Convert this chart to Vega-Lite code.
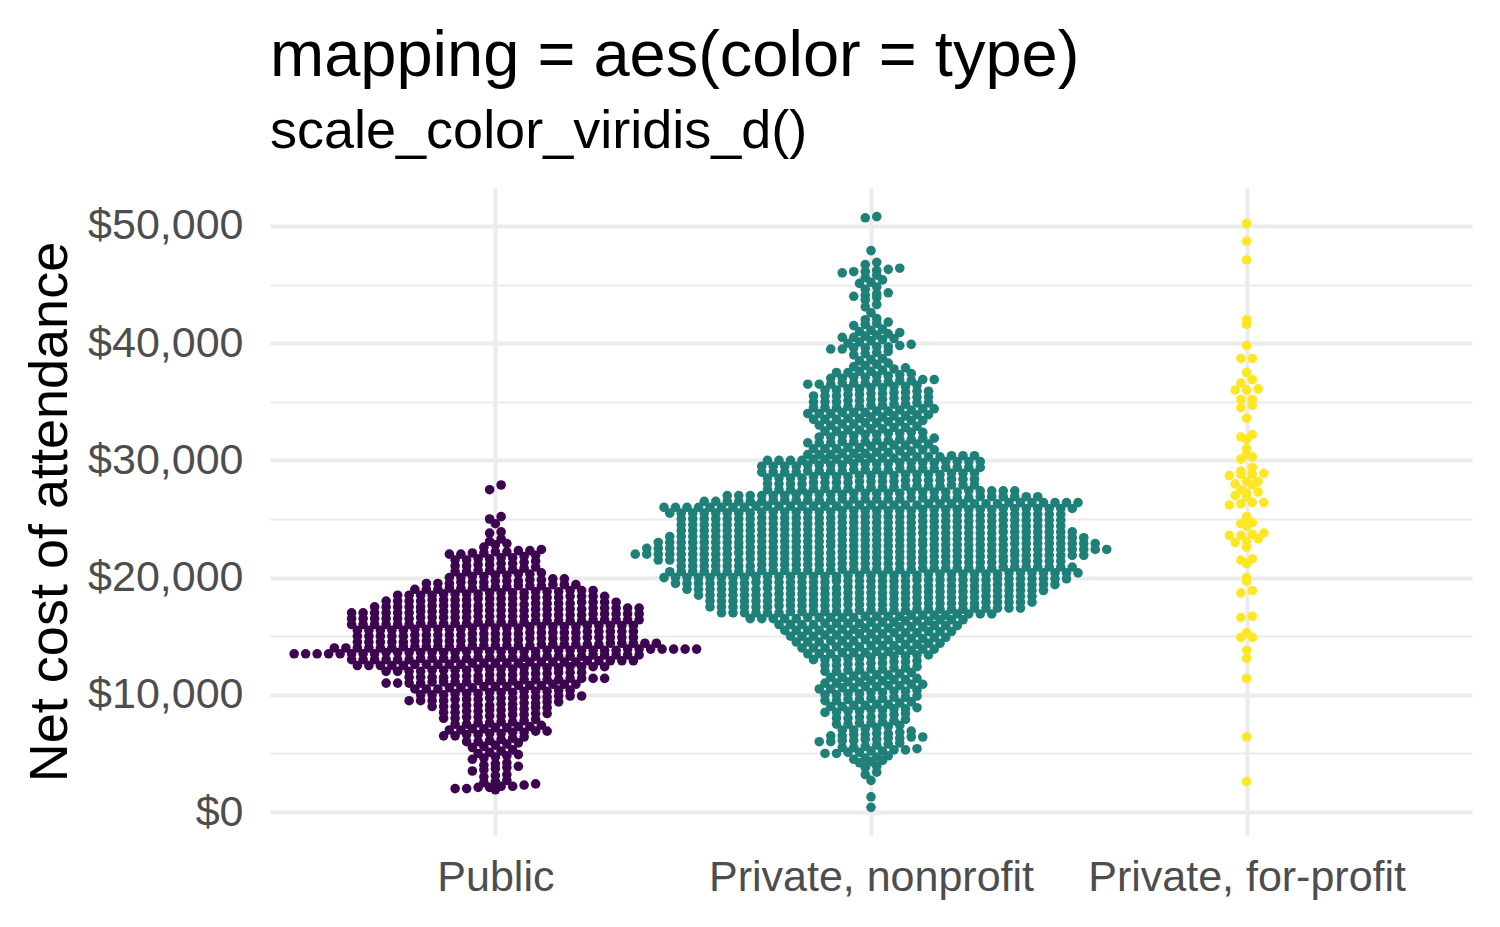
{
"$schema": "https://vega.github.io/schema/vega-lite/v6.json",
"width": 1202,
"height": 647,
"autosize": {"type": "none"},
"padding": {"left": 270, "top": 188, "right": 28, "bottom": 92},
"background": "white",
"config": {"view": {"stroke": null}, "font": "Liberation Sans"},
"title": {"text": "mapping = aes(color = type)", "subtitle": "scale_color_viridis_d()", "anchor": "start", "frame": "group", "font": "Liberation Sans", "fontSize": 65, "fontWeight": "normal", "color": "#000000", "subtitleFont": "Liberation Sans", "subtitleFontSize": 54, "subtitleColor": "#000000", "subtitlePadding": 15, "offset": 28},
"datasets": {
"public": [
{"cost":1900},
{"cost":2000},{"cost":2100},{"cost":2200},{"cost":2300},{"cost":2400},{"cost":2000},{"cost":2100},{"cost":2200},
{"cost":2500},{"cost":2600},{"cost":2700},
{"cost":3000},{"cost":3100},{"cost":3200},
{"cost":3500},{"cost":3600},{"cost":3700},{"cost":3800},{"cost":3900},
{"cost":4000},{"cost":4100},{"cost":4200},
{"cost":4500},{"cost":4600},{"cost":4700},{"cost":4800},{"cost":4900},
{"cost":5000},{"cost":5100},{"cost":5200},{"cost":5300},
{"cost":5500},{"cost":5600},{"cost":5700},{"cost":5800},{"cost":5900},
{"cost":6000},{"cost":6100},{"cost":6200},{"cost":6300},{"cost":6400},{"cost":6000},
{"cost":6500},{"cost":6600},{"cost":6700},{"cost":6800},{"cost":6900},{"cost":6500},{"cost":6600},{"cost":6700},{"cost":6800},{"cost":6900},
{"cost":7000},{"cost":7100},{"cost":7200},{"cost":7300},{"cost":7400},{"cost":7000},{"cost":7100},{"cost":7200},{"cost":7300},
{"cost":7500},{"cost":7600},{"cost":7700},{"cost":7800},{"cost":7900},{"cost":7500},{"cost":7600},{"cost":7700},
{"cost":8000},{"cost":8100},{"cost":8200},{"cost":8300},{"cost":8400},{"cost":8000},{"cost":8100},{"cost":8200},{"cost":8300},{"cost":8400},
{"cost":8500},{"cost":8600},{"cost":8700},{"cost":8800},{"cost":8900},{"cost":8500},{"cost":8600},{"cost":8700},{"cost":8800},{"cost":8900},
{"cost":9000},{"cost":9100},{"cost":9200},{"cost":9300},{"cost":9400},{"cost":9000},{"cost":9100},{"cost":9200},{"cost":9300},{"cost":9400},{"cost":9000},{"cost":9100},
{"cost":9500},{"cost":9600},{"cost":9700},{"cost":9800},{"cost":9900},{"cost":9500},{"cost":9600},{"cost":9700},{"cost":9800},{"cost":9900},{"cost":9500},{"cost":9600},{"cost":9700},{"cost":9800},{"cost":9900},{"cost":9500},
{"cost":10000},{"cost":10100},{"cost":10200},{"cost":10300},{"cost":10400},{"cost":10000},{"cost":10100},{"cost":10200},{"cost":10300},{"cost":10400},{"cost":10000},{"cost":10100},{"cost":10200},{"cost":10300},
{"cost":10500},{"cost":10600},{"cost":10700},{"cost":10800},{"cost":10900},{"cost":10500},{"cost":10600},{"cost":10700},{"cost":10800},{"cost":10900},{"cost":10500},{"cost":10600},{"cost":10700},{"cost":10800},{"cost":10900},
{"cost":11000},{"cost":11100},{"cost":11200},{"cost":11300},{"cost":11400},{"cost":11000},{"cost":11100},{"cost":11200},{"cost":11300},{"cost":11400},{"cost":11000},{"cost":11100},{"cost":11200},{"cost":11300},{"cost":11400},{"cost":11000},{"cost":11100},{"cost":11200},{"cost":11300},{"cost":11400},
{"cost":11500},{"cost":11600},{"cost":11700},{"cost":11800},{"cost":11900},{"cost":11500},{"cost":11600},{"cost":11700},{"cost":11800},{"cost":11900},{"cost":11500},{"cost":11600},{"cost":11700},{"cost":11800},{"cost":11900},{"cost":11500},
{"cost":12000},{"cost":12100},{"cost":12200},{"cost":12300},{"cost":12400},{"cost":12000},{"cost":12100},{"cost":12200},{"cost":12300},{"cost":12400},{"cost":12000},{"cost":12100},{"cost":12200},{"cost":12300},{"cost":12400},{"cost":12000},{"cost":12100},{"cost":12200},{"cost":12300},{"cost":12400},
{"cost":12500},{"cost":12600},{"cost":12700},{"cost":12800},{"cost":12900},{"cost":12500},{"cost":12600},{"cost":12700},{"cost":12800},{"cost":12900},{"cost":12500},{"cost":12600},{"cost":12700},{"cost":12800},{"cost":12900},{"cost":12500},{"cost":12600},{"cost":12700},{"cost":12800},{"cost":12900},{"cost":12500},{"cost":12600},{"cost":12700},{"cost":12800},{"cost":12900},
{"cost":13000},{"cost":13100},{"cost":13200},{"cost":13300},{"cost":13400},{"cost":13000},{"cost":13100},{"cost":13200},{"cost":13300},{"cost":13400},{"cost":13000},{"cost":13100},{"cost":13200},{"cost":13300},{"cost":13400},{"cost":13000},{"cost":13100},{"cost":13200},{"cost":13300},{"cost":13400},{"cost":13000},{"cost":13100},{"cost":13200},{"cost":13300},{"cost":13400},{"cost":13000},
{"cost":13500},{"cost":13600},{"cost":13700},{"cost":13800},{"cost":13900},{"cost":13500},{"cost":13600},{"cost":13700},{"cost":13800},{"cost":13900},{"cost":13500},{"cost":13600},{"cost":13700},{"cost":13800},{"cost":13900},{"cost":13500},{"cost":13600},{"cost":13700},{"cost":13800},{"cost":13900},{"cost":13500},{"cost":13600},{"cost":13700},{"cost":13800},{"cost":13900},{"cost":13500},{"cost":13600},{"cost":13700},{"cost":13800},{"cost":13900},{"cost":13500},{"cost":13600},{"cost":13700},{"cost":13800},{"cost":13900},{"cost":13500},
{"cost":14000},{"cost":14100},{"cost":14200},{"cost":14300},{"cost":14400},{"cost":14000},{"cost":14100},{"cost":14200},{"cost":14300},{"cost":14400},{"cost":14000},{"cost":14100},{"cost":14200},{"cost":14300},{"cost":14400},{"cost":14000},{"cost":14100},{"cost":14200},{"cost":14300},{"cost":14400},{"cost":14000},{"cost":14100},{"cost":14200},{"cost":14300},{"cost":14400},{"cost":14000},{"cost":14100},{"cost":14200},{"cost":14300},
{"cost":14500},{"cost":14600},{"cost":14700},{"cost":14800},{"cost":14900},{"cost":14500},{"cost":14600},{"cost":14700},{"cost":14800},{"cost":14900},{"cost":14500},{"cost":14600},{"cost":14700},{"cost":14800},{"cost":14900},{"cost":14500},{"cost":14600},{"cost":14700},{"cost":14800},{"cost":14900},{"cost":14500},{"cost":14600},{"cost":14700},{"cost":14800},{"cost":14900},
{"cost":15000},{"cost":15100},{"cost":15200},{"cost":15300},{"cost":15400},{"cost":15000},{"cost":15100},{"cost":15200},{"cost":15300},{"cost":15400},{"cost":15000},{"cost":15100},{"cost":15200},{"cost":15300},{"cost":15400},{"cost":15000},{"cost":15100},{"cost":15200},{"cost":15300},{"cost":15400},{"cost":15000},{"cost":15100},{"cost":15200},{"cost":15300},{"cost":15400},
{"cost":15500},{"cost":15600},{"cost":15700},{"cost":15800},{"cost":15900},{"cost":15500},{"cost":15600},{"cost":15700},{"cost":15800},{"cost":15900},{"cost":15500},{"cost":15600},{"cost":15700},{"cost":15800},{"cost":15900},{"cost":15500},{"cost":15600},{"cost":15700},{"cost":15800},{"cost":15900},{"cost":15500},{"cost":15600},{"cost":15700},{"cost":15800},{"cost":15900},
{"cost":16000},{"cost":16100},{"cost":16200},{"cost":16300},{"cost":16400},{"cost":16000},{"cost":16100},{"cost":16200},{"cost":16300},{"cost":16400},{"cost":16000},{"cost":16100},{"cost":16200},{"cost":16300},{"cost":16400},{"cost":16000},{"cost":16100},{"cost":16200},{"cost":16300},{"cost":16400},{"cost":16000},{"cost":16100},{"cost":16200},{"cost":16300},{"cost":16400},{"cost":16000},
{"cost":16500},{"cost":16600},{"cost":16700},{"cost":16800},{"cost":16900},{"cost":16500},{"cost":16600},{"cost":16700},{"cost":16800},{"cost":16900},{"cost":16500},{"cost":16600},{"cost":16700},{"cost":16800},{"cost":16900},{"cost":16500},{"cost":16600},{"cost":16700},{"cost":16800},{"cost":16900},{"cost":16500},{"cost":16600},{"cost":16700},{"cost":16800},{"cost":16900},{"cost":16500},
{"cost":17000},{"cost":17100},{"cost":17200},{"cost":17300},{"cost":17400},{"cost":17000},{"cost":17100},{"cost":17200},{"cost":17300},{"cost":17400},{"cost":17000},{"cost":17100},{"cost":17200},{"cost":17300},{"cost":17400},{"cost":17000},{"cost":17100},{"cost":17200},{"cost":17300},{"cost":17400},{"cost":17000},{"cost":17100},{"cost":17200},{"cost":17300},{"cost":17400},{"cost":17000},
{"cost":17500},{"cost":17600},{"cost":17700},{"cost":17800},{"cost":17900},{"cost":17500},{"cost":17600},{"cost":17700},{"cost":17800},{"cost":17900},{"cost":17500},{"cost":17600},{"cost":17700},{"cost":17800},{"cost":17900},{"cost":17500},{"cost":17600},{"cost":17700},{"cost":17800},{"cost":17900},{"cost":17500},{"cost":17600},
{"cost":18000},{"cost":18100},{"cost":18200},{"cost":18300},{"cost":18400},{"cost":18000},{"cost":18100},{"cost":18200},{"cost":18300},{"cost":18400},{"cost":18000},{"cost":18100},{"cost":18200},{"cost":18300},{"cost":18400},{"cost":18000},{"cost":18100},{"cost":18200},{"cost":18300},{"cost":18400},
{"cost":18500},{"cost":18600},{"cost":18700},{"cost":18800},{"cost":18900},{"cost":18500},{"cost":18600},{"cost":18700},{"cost":18800},{"cost":18900},{"cost":18500},{"cost":18600},{"cost":18700},{"cost":18800},{"cost":18900},{"cost":18500},{"cost":18600},{"cost":18700},
{"cost":19000},{"cost":19100},{"cost":19200},{"cost":19300},{"cost":19400},{"cost":19000},{"cost":19100},{"cost":19200},{"cost":19300},{"cost":19400},{"cost":19000},{"cost":19100},{"cost":19200},{"cost":19300},{"cost":19400},
{"cost":19500},{"cost":19600},{"cost":19700},{"cost":19800},{"cost":19900},{"cost":19500},{"cost":19600},{"cost":19700},{"cost":19800},{"cost":19900},{"cost":19500},{"cost":19600},{"cost":19700},
{"cost":20000},{"cost":20100},{"cost":20200},{"cost":20300},{"cost":20400},{"cost":20000},{"cost":20100},{"cost":20200},{"cost":20300},
{"cost":20500},{"cost":20600},{"cost":20700},{"cost":20800},{"cost":20900},{"cost":20500},{"cost":20600},{"cost":20700},
{"cost":21000},{"cost":21100},{"cost":21200},{"cost":21300},{"cost":21400},{"cost":21000},{"cost":21100},{"cost":21200},
{"cost":21500},{"cost":21600},{"cost":21700},{"cost":21800},{"cost":21900},{"cost":21500},{"cost":21600},{"cost":21700},
{"cost":22000},{"cost":22100},{"cost":22200},{"cost":22300},{"cost":22400},{"cost":22000},{"cost":22100},{"cost":22200},{"cost":22300},
{"cost":22600},{"cost":22800},{"cost":22900},
{"cost":23100},{"cost":23300},
{"cost":23800},{"cost":23900},
{"cost":24600},
{"cost":25000},{"cost":25200},
{"cost":27500},{"cost":27900}
],
"nonprofit": [
{"cost":400},
{"cost":1300},
{"cost":2700},
{"cost":3200},{"cost":3400},
{"cost":3800},{"cost":3900},
{"cost":4200},{"cost":4300},{"cost":4400},
{"cost":4500},{"cost":4600},{"cost":4700},{"cost":4800},
{"cost":5000},{"cost":5100},{"cost":5200},{"cost":5300},{"cost":5400},{"cost":5000},{"cost":5100},{"cost":5200},{"cost":5300},
{"cost":5500},{"cost":5600},{"cost":5700},{"cost":5800},{"cost":5900},{"cost":5500},
{"cost":6000},{"cost":6100},{"cost":6200},{"cost":6300},{"cost":6400},{"cost":6000},{"cost":6100},{"cost":6200},{"cost":6300},{"cost":6400},
{"cost":6500},{"cost":6600},{"cost":6700},{"cost":6800},{"cost":6900},{"cost":6500},{"cost":6600},{"cost":6700},
{"cost":7000},{"cost":7100},{"cost":7200},{"cost":7300},{"cost":7400},{"cost":7000},
{"cost":7500},{"cost":7600},{"cost":7700},{"cost":7800},{"cost":7900},{"cost":7500},{"cost":7600},
{"cost":8000},{"cost":8100},{"cost":8200},{"cost":8300},{"cost":8400},{"cost":8000},{"cost":8100},
{"cost":8500},{"cost":8600},{"cost":8700},{"cost":8800},{"cost":8900},{"cost":8500},{"cost":8600},{"cost":8700},{"cost":8800},
{"cost":9000},{"cost":9100},{"cost":9200},{"cost":9300},{"cost":9400},{"cost":9000},{"cost":9100},{"cost":9200},
{"cost":9500},{"cost":9600},{"cost":9700},{"cost":9800},{"cost":9900},{"cost":9500},{"cost":9600},{"cost":9700},{"cost":9800},
{"cost":10000},{"cost":10100},{"cost":10200},{"cost":10300},{"cost":10400},{"cost":10000},{"cost":10100},{"cost":10200},{"cost":10300},
{"cost":10500},{"cost":10600},{"cost":10700},{"cost":10800},{"cost":10900},{"cost":10500},{"cost":10600},{"cost":10700},{"cost":10800},{"cost":10900},
{"cost":11000},{"cost":11100},{"cost":11200},{"cost":11300},{"cost":11400},{"cost":11000},{"cost":11100},{"cost":11200},{"cost":11300},
{"cost":11500},{"cost":11600},{"cost":11700},{"cost":11800},{"cost":11900},{"cost":11500},{"cost":11600},{"cost":11700},
{"cost":12000},{"cost":12100},{"cost":12200},{"cost":12300},{"cost":12400},{"cost":12000},{"cost":12100},{"cost":12200},{"cost":12300},
{"cost":12500},{"cost":12600},{"cost":12700},{"cost":12800},{"cost":12900},{"cost":12500},{"cost":12600},{"cost":12700},{"cost":12800},
{"cost":13000},{"cost":13100},{"cost":13200},{"cost":13300},{"cost":13400},{"cost":13000},{"cost":13100},{"cost":13200},{"cost":13300},{"cost":13400},{"cost":13000},
{"cost":13500},{"cost":13600},{"cost":13700},{"cost":13800},{"cost":13900},{"cost":13500},{"cost":13600},{"cost":13700},{"cost":13800},{"cost":13900},{"cost":13500},{"cost":13600},
{"cost":14000},{"cost":14100},{"cost":14200},{"cost":14300},{"cost":14400},{"cost":14000},{"cost":14100},{"cost":14200},{"cost":14300},{"cost":14400},{"cost":14000},{"cost":14100},{"cost":14200},
{"cost":14500},{"cost":14600},{"cost":14700},{"cost":14800},{"cost":14900},{"cost":14500},{"cost":14600},{"cost":14700},{"cost":14800},{"cost":14900},{"cost":14500},{"cost":14600},{"cost":14700},{"cost":14800},
{"cost":15000},{"cost":15100},{"cost":15200},{"cost":15300},{"cost":15400},{"cost":15000},{"cost":15100},{"cost":15200},{"cost":15300},{"cost":15400},{"cost":15000},{"cost":15100},{"cost":15200},{"cost":15300},{"cost":15400},
{"cost":15500},{"cost":15600},{"cost":15700},{"cost":15800},{"cost":15900},{"cost":15500},{"cost":15600},{"cost":15700},{"cost":15800},{"cost":15900},{"cost":15500},{"cost":15600},{"cost":15700},{"cost":15800},{"cost":15900},{"cost":15500},
{"cost":16000},{"cost":16100},{"cost":16200},{"cost":16300},{"cost":16400},{"cost":16000},{"cost":16100},{"cost":16200},{"cost":16300},{"cost":16400},{"cost":16000},{"cost":16100},{"cost":16200},{"cost":16300},{"cost":16400},{"cost":16000},{"cost":16100},
{"cost":16500},{"cost":16600},{"cost":16700},{"cost":16800},{"cost":16900},{"cost":16500},{"cost":16600},{"cost":16700},{"cost":16800},{"cost":16900},{"cost":16500},{"cost":16600},{"cost":16700},{"cost":16800},{"cost":16900},{"cost":16500},{"cost":16600},{"cost":16700},{"cost":16800},{"cost":16900},{"cost":16500},{"cost":16600},
{"cost":17000},{"cost":17100},{"cost":17200},{"cost":17300},{"cost":17400},{"cost":17000},{"cost":17100},{"cost":17200},{"cost":17300},{"cost":17400},{"cost":17000},{"cost":17100},{"cost":17200},{"cost":17300},{"cost":17400},{"cost":17000},{"cost":17100},{"cost":17200},{"cost":17300},{"cost":17400},{"cost":17000},{"cost":17100},{"cost":17200},{"cost":17300},{"cost":17400},{"cost":17000},{"cost":17100},
{"cost":17500},{"cost":17600},{"cost":17700},{"cost":17800},{"cost":17900},{"cost":17500},{"cost":17600},{"cost":17700},{"cost":17800},{"cost":17900},{"cost":17500},{"cost":17600},{"cost":17700},{"cost":17800},{"cost":17900},{"cost":17500},{"cost":17600},{"cost":17700},{"cost":17800},{"cost":17900},{"cost":17500},{"cost":17600},{"cost":17700},{"cost":17800},{"cost":17900},{"cost":17500},{"cost":17600},{"cost":17700},{"cost":17800},
{"cost":18000},{"cost":18100},{"cost":18200},{"cost":18300},{"cost":18400},{"cost":18000},{"cost":18100},{"cost":18200},{"cost":18300},{"cost":18400},{"cost":18000},{"cost":18100},{"cost":18200},{"cost":18300},{"cost":18400},{"cost":18000},{"cost":18100},{"cost":18200},{"cost":18300},{"cost":18400},{"cost":18000},{"cost":18100},{"cost":18200},{"cost":18300},{"cost":18400},{"cost":18000},{"cost":18100},{"cost":18200},{"cost":18300},
{"cost":18500},{"cost":18600},{"cost":18700},{"cost":18800},{"cost":18900},{"cost":18500},{"cost":18600},{"cost":18700},{"cost":18800},{"cost":18900},{"cost":18500},{"cost":18600},{"cost":18700},{"cost":18800},{"cost":18900},{"cost":18500},{"cost":18600},{"cost":18700},{"cost":18800},{"cost":18900},{"cost":18500},{"cost":18600},{"cost":18700},{"cost":18800},{"cost":18900},{"cost":18500},{"cost":18600},{"cost":18700},{"cost":18800},{"cost":18900},{"cost":18500},
{"cost":19000},{"cost":19100},{"cost":19200},{"cost":19300},{"cost":19400},{"cost":19000},{"cost":19100},{"cost":19200},{"cost":19300},{"cost":19400},{"cost":19000},{"cost":19100},{"cost":19200},{"cost":19300},{"cost":19400},{"cost":19000},{"cost":19100},{"cost":19200},{"cost":19300},{"cost":19400},{"cost":19000},{"cost":19100},{"cost":19200},{"cost":19300},{"cost":19400},{"cost":19000},{"cost":19100},{"cost":19200},{"cost":19300},{"cost":19400},{"cost":19000},{"cost":19100},{"cost":19200},
{"cost":19500},{"cost":19600},{"cost":19700},{"cost":19800},{"cost":19900},{"cost":19500},{"cost":19600},{"cost":19700},{"cost":19800},{"cost":19900},{"cost":19500},{"cost":19600},{"cost":19700},{"cost":19800},{"cost":19900},{"cost":19500},{"cost":19600},{"cost":19700},{"cost":19800},{"cost":19900},{"cost":19500},{"cost":19600},{"cost":19700},{"cost":19800},{"cost":19900},{"cost":19500},{"cost":19600},{"cost":19700},{"cost":19800},{"cost":19900},{"cost":19500},{"cost":19600},{"cost":19700},{"cost":19800},{"cost":19900},
{"cost":20000},{"cost":20100},{"cost":20200},{"cost":20300},{"cost":20400},{"cost":20000},{"cost":20100},{"cost":20200},{"cost":20300},{"cost":20400},{"cost":20000},{"cost":20100},{"cost":20200},{"cost":20300},{"cost":20400},{"cost":20000},{"cost":20100},{"cost":20200},{"cost":20300},{"cost":20400},{"cost":20000},{"cost":20100},{"cost":20200},{"cost":20300},{"cost":20400},{"cost":20000},{"cost":20100},{"cost":20200},{"cost":20300},{"cost":20400},{"cost":20000},{"cost":20100},{"cost":20200},{"cost":20300},{"cost":20400},{"cost":20000},{"cost":20100},
{"cost":20500},{"cost":20600},{"cost":20700},{"cost":20800},{"cost":20900},{"cost":20500},{"cost":20600},{"cost":20700},{"cost":20800},{"cost":20900},{"cost":20500},{"cost":20600},{"cost":20700},{"cost":20800},{"cost":20900},{"cost":20500},{"cost":20600},{"cost":20700},{"cost":20800},{"cost":20900},{"cost":20500},{"cost":20600},{"cost":20700},{"cost":20800},{"cost":20900},{"cost":20500},{"cost":20600},{"cost":20700},{"cost":20800},{"cost":20900},{"cost":20500},{"cost":20600},{"cost":20700},{"cost":20800},{"cost":20900},{"cost":20500},
{"cost":21000},{"cost":21100},{"cost":21200},{"cost":21300},{"cost":21400},{"cost":21000},{"cost":21100},{"cost":21200},{"cost":21300},{"cost":21400},{"cost":21000},{"cost":21100},{"cost":21200},{"cost":21300},{"cost":21400},{"cost":21000},{"cost":21100},{"cost":21200},{"cost":21300},{"cost":21400},{"cost":21000},{"cost":21100},{"cost":21200},{"cost":21300},{"cost":21400},{"cost":21000},{"cost":21100},{"cost":21200},{"cost":21300},{"cost":21400},{"cost":21000},{"cost":21100},{"cost":21200},{"cost":21300},
{"cost":21500},{"cost":21600},{"cost":21700},{"cost":21800},{"cost":21900},{"cost":21500},{"cost":21600},{"cost":21700},{"cost":21800},{"cost":21900},{"cost":21500},{"cost":21600},{"cost":21700},{"cost":21800},{"cost":21900},{"cost":21500},{"cost":21600},{"cost":21700},{"cost":21800},{"cost":21900},{"cost":21500},{"cost":21600},{"cost":21700},{"cost":21800},{"cost":21900},{"cost":21500},{"cost":21600},{"cost":21700},{"cost":21800},{"cost":21900},{"cost":21500},{"cost":21600},{"cost":21700},{"cost":21800},{"cost":21900},{"cost":21500},{"cost":21600},{"cost":21700},
{"cost":22000},{"cost":22100},{"cost":22200},{"cost":22300},{"cost":22400},{"cost":22000},{"cost":22100},{"cost":22200},{"cost":22300},{"cost":22400},{"cost":22000},{"cost":22100},{"cost":22200},{"cost":22300},{"cost":22400},{"cost":22000},{"cost":22100},{"cost":22200},{"cost":22300},{"cost":22400},{"cost":22000},{"cost":22100},{"cost":22200},{"cost":22300},{"cost":22400},{"cost":22000},{"cost":22100},{"cost":22200},{"cost":22300},{"cost":22400},{"cost":22000},{"cost":22100},{"cost":22200},{"cost":22300},{"cost":22400},{"cost":22000},{"cost":22100},{"cost":22200},{"cost":22300},{"cost":22400},{"cost":22000},{"cost":22100},
{"cost":22500},{"cost":22600},{"cost":22700},{"cost":22800},{"cost":22900},{"cost":22500},{"cost":22600},{"cost":22700},{"cost":22800},{"cost":22900},{"cost":22500},{"cost":22600},{"cost":22700},{"cost":22800},{"cost":22900},{"cost":22500},{"cost":22600},{"cost":22700},{"cost":22800},{"cost":22900},{"cost":22500},{"cost":22600},{"cost":22700},{"cost":22800},{"cost":22900},{"cost":22500},{"cost":22600},{"cost":22700},{"cost":22800},{"cost":22900},{"cost":22500},{"cost":22600},{"cost":22700},{"cost":22800},{"cost":22900},{"cost":22500},{"cost":22600},{"cost":22700},{"cost":22800},{"cost":22900},
{"cost":23000},{"cost":23100},{"cost":23200},{"cost":23300},{"cost":23400},{"cost":23000},{"cost":23100},{"cost":23200},{"cost":23300},{"cost":23400},{"cost":23000},{"cost":23100},{"cost":23200},{"cost":23300},{"cost":23400},{"cost":23000},{"cost":23100},{"cost":23200},{"cost":23300},{"cost":23400},{"cost":23000},{"cost":23100},{"cost":23200},{"cost":23300},{"cost":23400},{"cost":23000},{"cost":23100},{"cost":23200},{"cost":23300},{"cost":23400},{"cost":23000},{"cost":23100},{"cost":23200},{"cost":23300},{"cost":23400},{"cost":23000},{"cost":23100},{"cost":23200},
{"cost":23500},{"cost":23600},{"cost":23700},{"cost":23800},{"cost":23900},{"cost":23500},{"cost":23600},{"cost":23700},{"cost":23800},{"cost":23900},{"cost":23500},{"cost":23600},{"cost":23700},{"cost":23800},{"cost":23900},{"cost":23500},{"cost":23600},{"cost":23700},{"cost":23800},{"cost":23900},{"cost":23500},{"cost":23600},{"cost":23700},{"cost":23800},{"cost":23900},{"cost":23500},{"cost":23600},{"cost":23700},{"cost":23800},{"cost":23900},{"cost":23500},{"cost":23600},{"cost":23700},{"cost":23800},{"cost":23900},{"cost":23500},
{"cost":24000},{"cost":24100},{"cost":24200},{"cost":24300},{"cost":24400},{"cost":24000},{"cost":24100},{"cost":24200},{"cost":24300},{"cost":24400},{"cost":24000},{"cost":24100},{"cost":24200},{"cost":24300},{"cost":24400},{"cost":24000},{"cost":24100},{"cost":24200},{"cost":24300},{"cost":24400},{"cost":24000},{"cost":24100},{"cost":24200},{"cost":24300},{"cost":24400},{"cost":24000},{"cost":24100},{"cost":24200},{"cost":24300},{"cost":24400},{"cost":24000},{"cost":24100},{"cost":24200},{"cost":24300},
{"cost":24500},{"cost":24600},{"cost":24700},{"cost":24800},{"cost":24900},{"cost":24500},{"cost":24600},{"cost":24700},{"cost":24800},{"cost":24900},{"cost":24500},{"cost":24600},{"cost":24700},{"cost":24800},{"cost":24900},{"cost":24500},{"cost":24600},{"cost":24700},{"cost":24800},{"cost":24900},{"cost":24500},{"cost":24600},{"cost":24700},{"cost":24800},{"cost":24900},{"cost":24500},{"cost":24600},{"cost":24700},{"cost":24800},{"cost":24900},{"cost":24500},{"cost":24600},{"cost":24700},{"cost":24800},
{"cost":25000},{"cost":25100},{"cost":25200},{"cost":25300},{"cost":25400},{"cost":25000},{"cost":25100},{"cost":25200},{"cost":25300},{"cost":25400},{"cost":25000},{"cost":25100},{"cost":25200},{"cost":25300},{"cost":25400},{"cost":25000},{"cost":25100},{"cost":25200},{"cost":25300},{"cost":25400},{"cost":25000},{"cost":25100},{"cost":25200},{"cost":25300},{"cost":25400},{"cost":25000},{"cost":25100},{"cost":25200},{"cost":25300},{"cost":25400},{"cost":25000},{"cost":25100},{"cost":25200},{"cost":25300},
{"cost":25500},{"cost":25600},{"cost":25700},{"cost":25800},{"cost":25900},{"cost":25500},{"cost":25600},{"cost":25700},{"cost":25800},{"cost":25900},{"cost":25500},{"cost":25600},{"cost":25700},{"cost":25800},{"cost":25900},{"cost":25500},{"cost":25600},{"cost":25700},{"cost":25800},{"cost":25900},{"cost":25500},{"cost":25600},{"cost":25700},{"cost":25800},{"cost":25900},{"cost":25500},{"cost":25600},{"cost":25700},{"cost":25800},{"cost":25900},{"cost":25500},{"cost":25600},{"cost":25700},{"cost":25800},{"cost":25900},{"cost":25500},
{"cost":26000},{"cost":26100},{"cost":26200},{"cost":26300},{"cost":26400},{"cost":26000},{"cost":26100},{"cost":26200},{"cost":26300},{"cost":26400},{"cost":26000},{"cost":26100},{"cost":26200},{"cost":26300},{"cost":26400},{"cost":26000},{"cost":26100},{"cost":26200},{"cost":26300},{"cost":26400},{"cost":26000},{"cost":26100},{"cost":26200},{"cost":26300},{"cost":26400},{"cost":26000},{"cost":26100},{"cost":26200},{"cost":26300},{"cost":26400},{"cost":26000},{"cost":26100},{"cost":26200},{"cost":26300},{"cost":26400},{"cost":26000},{"cost":26100},
{"cost":26500},{"cost":26600},{"cost":26700},{"cost":26800},{"cost":26900},{"cost":26500},{"cost":26600},{"cost":26700},{"cost":26800},{"cost":26900},{"cost":26500},{"cost":26600},{"cost":26700},{"cost":26800},{"cost":26900},{"cost":26500},{"cost":26600},{"cost":26700},{"cost":26800},{"cost":26900},{"cost":26500},{"cost":26600},{"cost":26700},{"cost":26800},{"cost":26900},{"cost":26500},{"cost":26600},{"cost":26700},{"cost":26800},{"cost":26900},
{"cost":27000},{"cost":27100},{"cost":27200},{"cost":27300},{"cost":27400},{"cost":27000},{"cost":27100},{"cost":27200},{"cost":27300},{"cost":27400},{"cost":27000},{"cost":27100},{"cost":27200},{"cost":27300},{"cost":27400},{"cost":27000},{"cost":27100},{"cost":27200},{"cost":27300},{"cost":27400},{"cost":27000},{"cost":27100},{"cost":27200},{"cost":27300},{"cost":27400},{"cost":27000},
{"cost":27500},{"cost":27600},{"cost":27700},{"cost":27800},{"cost":27900},{"cost":27500},{"cost":27600},{"cost":27700},{"cost":27800},{"cost":27900},{"cost":27500},{"cost":27600},{"cost":27700},{"cost":27800},{"cost":27900},{"cost":27500},{"cost":27600},{"cost":27700},{"cost":27800},
{"cost":28000},{"cost":28100},{"cost":28200},{"cost":28300},{"cost":28400},{"cost":28000},{"cost":28100},{"cost":28200},{"cost":28300},{"cost":28400},{"cost":28000},{"cost":28100},{"cost":28200},{"cost":28300},{"cost":28400},{"cost":28000},{"cost":28100},{"cost":28200},{"cost":28300},
{"cost":28500},{"cost":28600},{"cost":28700},{"cost":28800},{"cost":28900},{"cost":28500},{"cost":28600},{"cost":28700},{"cost":28800},{"cost":28900},{"cost":28500},{"cost":28600},{"cost":28700},{"cost":28800},{"cost":28900},{"cost":28500},{"cost":28600},{"cost":28700},{"cost":28800},
{"cost":29000},{"cost":29100},{"cost":29200},{"cost":29300},{"cost":29400},{"cost":29000},{"cost":29100},{"cost":29200},{"cost":29300},{"cost":29400},{"cost":29000},{"cost":29100},{"cost":29200},{"cost":29300},{"cost":29400},{"cost":29000},{"cost":29100},{"cost":29200},{"cost":29300},{"cost":29400},
{"cost":29500},{"cost":29600},{"cost":29700},{"cost":29800},{"cost":29900},{"cost":29500},{"cost":29600},{"cost":29700},{"cost":29800},{"cost":29900},{"cost":29500},{"cost":29600},{"cost":29700},{"cost":29800},{"cost":29900},{"cost":29500},{"cost":29600},{"cost":29700},{"cost":29800},{"cost":29900},
{"cost":30000},{"cost":30100},{"cost":30200},{"cost":30300},{"cost":30400},{"cost":30000},{"cost":30100},{"cost":30200},{"cost":30300},{"cost":30400},{"cost":30000},{"cost":30100},{"cost":30200},{"cost":30300},{"cost":30400},{"cost":30000},{"cost":30100},{"cost":30200},{"cost":30300},
{"cost":30500},{"cost":30600},{"cost":30700},{"cost":30800},{"cost":30900},{"cost":30500},{"cost":30600},{"cost":30700},{"cost":30800},{"cost":30900},{"cost":30500},{"cost":30600},
{"cost":31000},{"cost":31100},{"cost":31200},{"cost":31300},{"cost":31400},{"cost":31000},{"cost":31100},{"cost":31200},{"cost":31300},{"cost":31400},{"cost":31000},
{"cost":31500},{"cost":31600},{"cost":31700},{"cost":31800},{"cost":31900},{"cost":31500},{"cost":31600},{"cost":31700},{"cost":31800},{"cost":31900},{"cost":31500},{"cost":31600},
{"cost":32000},{"cost":32100},{"cost":32200},{"cost":32300},{"cost":32400},{"cost":32000},{"cost":32100},{"cost":32200},{"cost":32300},{"cost":32400},
{"cost":32500},{"cost":32600},{"cost":32700},{"cost":32800},{"cost":32900},{"cost":32500},{"cost":32600},{"cost":32700},{"cost":32800},
{"cost":33000},{"cost":33100},{"cost":33200},{"cost":33300},{"cost":33400},{"cost":33000},{"cost":33100},{"cost":33200},{"cost":33300},{"cost":33400},
{"cost":33500},{"cost":33600},{"cost":33700},{"cost":33800},{"cost":33900},{"cost":33500},{"cost":33600},{"cost":33700},{"cost":33800},{"cost":33900},{"cost":33500},
{"cost":34000},{"cost":34100},{"cost":34200},{"cost":34300},{"cost":34400},{"cost":34000},{"cost":34100},{"cost":34200},{"cost":34300},{"cost":34400},{"cost":34000},{"cost":34100},
{"cost":34500},{"cost":34600},{"cost":34700},{"cost":34800},{"cost":34900},{"cost":34500},{"cost":34600},{"cost":34700},{"cost":34800},{"cost":34900},{"cost":34500},
{"cost":35000},{"cost":35100},{"cost":35200},{"cost":35300},{"cost":35400},{"cost":35000},{"cost":35100},{"cost":35200},{"cost":35300},{"cost":35400},{"cost":35000},
{"cost":35500},{"cost":35600},{"cost":35700},{"cost":35800},{"cost":35900},{"cost":35500},{"cost":35600},{"cost":35700},{"cost":35800},{"cost":35900},{"cost":35500},
{"cost":36000},{"cost":36100},{"cost":36200},{"cost":36300},{"cost":36400},{"cost":36000},{"cost":36100},{"cost":36200},{"cost":36300},
{"cost":36500},{"cost":36600},{"cost":36700},{"cost":36800},{"cost":36900},{"cost":36500},{"cost":36600},{"cost":36700},{"cost":36800},{"cost":36900},{"cost":36500},{"cost":36600},
{"cost":37000},{"cost":37100},{"cost":37200},{"cost":37300},{"cost":37400},{"cost":37000},{"cost":37100},{"cost":37200},
{"cost":37500},{"cost":37600},{"cost":37700},{"cost":37800},{"cost":37900},{"cost":37500},{"cost":37600},
{"cost":38000},{"cost":38100},{"cost":38200},{"cost":38300},
{"cost":38500},{"cost":38600},{"cost":38700},
{"cost":39000},{"cost":39100},{"cost":39200},{"cost":39300},
{"cost":39500},{"cost":39600},{"cost":39700},{"cost":39800},{"cost":39900},{"cost":39500},{"cost":39600},{"cost":39700},
{"cost":40000},{"cost":40100},{"cost":40200},{"cost":40300},{"cost":40400},
{"cost":40500},{"cost":40600},{"cost":40700},{"cost":40800},{"cost":40900},{"cost":40500},
{"cost":41000},{"cost":41100},{"cost":41200},
{"cost":41500},{"cost":41600},{"cost":41700},{"cost":41800},
{"cost":42000},{"cost":42100},
{"cost":42600},
{"cost":43100},{"cost":43300},
{"cost":43700},{"cost":43900},
{"cost":44000},{"cost":44100},{"cost":44200},{"cost":44300},
{"cost":44600},{"cost":44800},
{"cost":45100},{"cost":45200},{"cost":45400},
{"cost":45600},{"cost":45800},
{"cost":46000},{"cost":46100},{"cost":46200},{"cost":46300},{"cost":46400},{"cost":46100},
{"cost":46700},{"cost":46900},
{"cost":47900},
{"cost":50700},{"cost":50800}
],
"forprofit": [
{"cost":50200},{"cost":48700},{"cost":47100},{"cost":42000},{"cost":41600},{"cost":39800},{"cost":38700},{"cost":38700},{"cost":37500},{"cost":36900},{"cost":36600},{"cost":36100},{"cost":36000},{"cost":36000},{"cost":35200},{"cost":35200},{"cost":34700},{"cost":34500},{"cost":33600},{"cost":32200},{"cost":32000},{"cost":31800},{"cost":31000},{"cost":30500},{"cost":30300},{"cost":30100},{"cost":29400},{"cost":29100},{"cost":28900},{"cost":28800},{"cost":28800},{"cost":28700},{"cost":28200},{"cost":28200},{"cost":28000},{"cost":27900},{"cost":27500},{"cost":27300},{"cost":27200},{"cost":27000},{"cost":26900},{"cost":26400},{"cost":26400},{"cost":26300},{"cost":26200},{"cost":25200},{"cost":24700},{"cost":24600},{"cost":24400},{"cost":23800},{"cost":23700},{"cost":23600},{"cost":23600},{"cost":23300},{"cost":23100},{"cost":23000},{"cost":22600},{"cost":21600},{"cost":21500},{"cost":21200},{"cost":20000},{"cost":19700},{"cost":18900},{"cost":18700},{"cost":16700},{"cost":16600},{"cost":15300},{"cost":14900},{"cost":14900},{"cost":13800},{"cost":13100},{"cost":11400},{"cost":6400},{"cost":2600}
]
},
"encoding": {
"y": {"field": "cost", "type": "quantitative", "scale": {"domain": [-1960, 53240], "nice": false, "zero": false},
 "axis": {"title": "Net cost of attendance", "titleFont": "Liberation Sans", "titleFontSize": 54, "titleFontWeight": "normal", "titleColor": "#000000", "titleX": -204, "titleY": 323.5, "titleAngle": 270, "titleAlign": "center", "titleBaseline": "alphabetic",
  "values": [0, 5000, 10000, 15000, 20000, 25000, 30000, 35000, 40000, 45000, 50000],
  "labelExpr": "datum.value % 10000 === 0 ? '$' + format(datum.value, ',') : ''",
  "labelFont": "Liberation Sans", "labelFontSize": 43, "labelColor": "#4D4D4D", "labelPadding": 27, "labelOverlap": false, "labelLimit": 0,
  "domain": false, "ticks": false, "tickSize": 0,
  "grid": true, "gridColor": "#EBEBEB", "gridWidth": {"condition": {"test": "datum.value % 10000 === 0", "value": 4}, "value": 2}}}
},
"layer": [
{"data": {"name": "public"},
 "transform": [
  {"bin": {"step": 500, "anchor": 0, "extent": [0, 55000]}, "field": "cost", "as": "b"},
  {"window": [{"op": "count", "as": "one"}], "frame": [0, 0]},
  {"stack": "one", "groupby": ["b"], "sort": [{"field": "cost", "order": "ascending"}], "offset": "center", "as": ["o0", "o1"]}
 ],
 "mark": {"type": "circle", "size": 92, "opacity": 1},
 "encoding": {
  "x": {"datum": "Public", "type": "nominal", "scale": {"type": "point", "domain": ["Public", "Private, nonprofit", "Private, for-profit"], "padding": 0.6},
   "axis": {"title": null, "domain": false, "ticks": false, "tickSize": 0, "labelAngle": 0, "labelLimit": 0, "labelFont": "Liberation Sans", "labelFontSize": 43, "labelColor": "#4D4D4D", "labelPadding": 21, "grid": true, "gridColor": "#EBEBEB", "gridWidth": 4}},
  "xOffset": {"field": "o0", "type": "quantitative", "scale": {"domain": [-22.5, 57.5], "range": [-460, 460]}},
  "color": {"datum": "Public", "type": "nominal", "scale": {"domain": ["Public", "Private, nonprofit", "Private, for-profit"], "range": ["#3D0550", "#1F8079", "#FDE725"]}, "legend": null}
 }},
{"data": {"name": "nonprofit"},
 "transform": [
  {"bin": {"step": 500, "anchor": 0, "extent": [0, 55000]}, "field": "cost", "as": "b"},
  {"window": [{"op": "count", "as": "one"}], "frame": [0, 0]},
  {"stack": "one", "groupby": ["b"], "sort": [{"field": "cost", "order": "ascending"}], "offset": "center", "as": ["o0", "o1"]}
 ],
 "mark": {"type": "circle", "size": 92, "opacity": 1},
 "encoding": {
  "x": {"datum": "Private, nonprofit", "type": "nominal", "scale": {"type": "point", "domain": ["Public", "Private, nonprofit", "Private, for-profit"], "padding": 0.6},
   "axis": {"title": null, "domain": false, "ticks": false, "tickSize": 0, "labelAngle": 0, "labelLimit": 0, "labelFont": "Liberation Sans", "labelFontSize": 43, "labelColor": "#4D4D4D", "labelPadding": 21, "grid": true, "gridColor": "#EBEBEB", "gridWidth": 4}},
  "xOffset": {"field": "o0", "type": "quantitative", "scale": {"domain": [-19.5, 60.5], "range": [-460, 460]}},
  "color": {"datum": "Private, nonprofit", "type": "nominal", "scale": {"domain": ["Public", "Private, nonprofit", "Private, for-profit"], "range": ["#3D0550", "#1F8079", "#FDE725"]}, "legend": null}
 }},
{"data": {"name": "forprofit"},
 "transform": [
  {"bin": {"step": 500, "anchor": 0, "extent": [0, 55000]}, "field": "cost", "as": "b"},
  {"window": [{"op": "count", "as": "one"}], "frame": [0, 0]},
  {"stack": "one", "groupby": ["b"], "sort": [{"field": "cost", "order": "ascending"}], "offset": "center", "as": ["o0", "o1"]}
 ],
 "mark": {"type": "circle", "size": 92, "opacity": 1},
 "encoding": {
  "x": {"datum": "Private, for-profit", "type": "nominal", "scale": {"type": "point", "domain": ["Public", "Private, nonprofit", "Private, for-profit"], "padding": 0.6},
   "axis": {"title": null, "domain": false, "ticks": false, "tickSize": 0, "labelAngle": 0, "labelLimit": 0, "labelFont": "Liberation Sans", "labelFontSize": 43, "labelColor": "#4D4D4D", "labelPadding": 21, "grid": true, "gridColor": "#EBEBEB", "gridWidth": 4}},
  "xOffset": {"field": "o0", "type": "quantitative", "scale": {"domain": [-38.5, 41.5], "range": [-460, 460]}},
  "color": {"datum": "Private, for-profit", "type": "nominal", "scale": {"domain": ["Public", "Private, nonprofit", "Private, for-profit"], "range": ["#3D0550", "#1F8079", "#FDE725"]}, "legend": null}
 }}
],
"resolve": {"scale": {"xOffset": "independent"}}
}
